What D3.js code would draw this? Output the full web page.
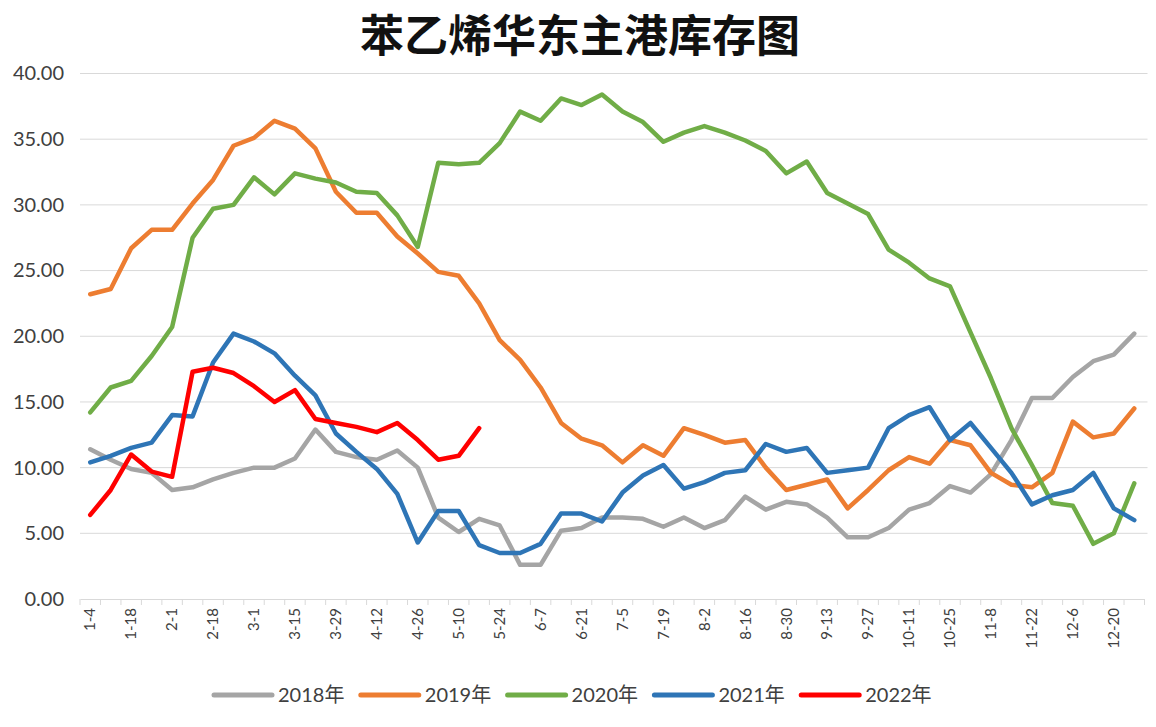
<!DOCTYPE html>
<html><head><meta charset="utf-8">
<script src="https://cdn.jsdelivr.net/npm/d3@7"></script>
<style>body{margin:0;background:#fff}svg{display:block}</style>
</head><body><svg id="c" width="1156" height="727"></svg>
<script>
const categories = ["1-4","1-11","1-18","1-25","2-1","2-8","2-18","2-22","3-1","3-8","3-15","3-22","3-29","4-5","4-12","4-19","4-26","5-3","5-10","5-17","5-24","5-31","6-7","6-14","6-21","6-28","7-5","7-12","7-19","7-26","8-2","8-9","8-16","8-23","8-30","9-6","9-13","9-20","9-27","10-4","10-11","10-18","10-25","11-1","11-8","11-15","11-22","11-29","12-6","12-13","12-20","12-27"];
const seriesNames = ["2018年","2019年","2020年","2021年","2022年"];
const seriesColors = ["#a5a5a5","#ed7d31","#70ad47","#2e75b6","#ff0000"];
const y2018 = [11.4,10.6,9.9,9.6,8.3,8.5,9.1,9.6,10.0,10.0,10.7,12.9,11.2,10.8,10.6,11.3,10.0,6.2,5.1,6.1,5.6,2.6,2.6,5.2,5.4,6.2,6.2,6.1,5.5,6.2,5.4,6.0,7.8,6.8,7.4,7.2,6.2,4.7,4.7,5.4,6.8,7.3,8.6,8.1,9.5,12.1,15.3,15.3,16.9,18.1,18.6,20.2];
const y2019 = [23.2,23.6,26.7,28.1,28.1,30.1,31.9,34.5,35.1,36.4,35.8,34.3,31.0,29.4,29.4,27.6,26.3,24.9,24.6,22.5,19.7,18.2,16.1,13.4,12.2,11.7,10.4,11.7,10.9,13.0,12.5,11.9,12.1,10.0,8.3,8.7,9.1,6.9,8.3,9.8,10.8,10.3,12.1,11.7,9.6,8.7,8.5,9.6,13.5,12.3,12.6,14.5];
const y2020 = [14.2,16.1,16.6,18.5,20.7,27.5,29.7,30.0,32.1,30.8,32.4,32.0,31.7,31.0,30.9,29.2,26.8,33.2,33.1,33.2,34.7,37.1,36.4,38.1,37.6,38.4,37.1,36.3,34.8,35.5,36.0,35.5,34.9,34.1,32.4,33.3,30.9,30.1,29.3,26.6,25.6,24.4,23.8,20.3,16.8,13.0,10.2,7.3,7.1,4.2,5.0,8.8];
const y2021 = [10.4,10.9,11.5,11.9,14.0,13.9,18.0,20.2,19.6,18.7,17.0,15.5,12.6,11.2,9.9,8.0,4.3,6.7,6.7,4.1,3.5,3.5,4.2,6.5,6.5,5.9,8.1,9.4,10.2,8.4,8.9,9.6,9.8,11.8,11.2,11.5,9.6,9.8,10.0,13.0,14.0,14.6,12.1,13.4,11.5,9.6,7.2,7.9,8.3,9.6,6.9,6.0];
const y2022 = [6.4,8.3,11.0,9.7,9.3,17.3,17.6,17.2,16.2,15.0,15.9,13.7,13.4,13.1,12.7,13.4,12.1,10.6,10.9,13.0];
const yTicks = [0,5,10,15,20,25,30,35,40];
const title = "苯乙烯华东主港库存图";

const svg = d3.select("#c");
const m = {l:80, r:1144.5, t:73.5, b:599};
const x = d3.scaleBand().domain(categories).range([m.l, m.r]).padding(0);
const y = d3.scaleLinear().domain([0,40]).range([m.b, m.t]);
const cx = d => x(d) + x.bandwidth()/2;

// gridlines
svg.append("g").selectAll("line").data(yTicks.filter(t=>t>0)).join("line")
  .attr("x1", m.l).attr("x2", m.r+3).attr("y1", d=>y(d)).attr("y2", d=>y(d))
  .attr("stroke","#d9d9d9").attr("stroke-width",1);

// y axis labels
const ya = svg.append("g").attr("transform",`translate(${m.l},0)`)
  .call(d3.axisLeft(y).tickValues(yTicks).tickFormat(d3.format(".2f")).tickSize(0).tickPadding(16));
ya.select(".domain").remove();
ya.selectAll("text").attr("font-family","Lato, 'Liberation Sans', sans-serif").attr("font-size",20).attr("fill","#404040");

// x axis
const xa = svg.append("g").attr("transform",`translate(0,${m.b})`)
  .call(d3.axisBottom(x).tickValues(categories.filter((c,i)=>i%2===0)).tickSize(0).tickPadding(8));
xa.select(".domain").attr("stroke","#d9d9d9");
xa.selectAll("text").attr("font-family","Lato, 'Liberation Sans', sans-serif").attr("font-size",15).attr("fill","#404040")
  .attr("transform","rotate(-90)").attr("text-anchor","end").attr("dx","-9").attr("dy","0.35em").attr("x",0).attr("y",0);
// boundary ticks
svg.append("g").selectAll("line").data(categories.concat(["__end"])).join("line")
  .attr("x1", (d,i)=> m.l + i*x.bandwidth()).attr("x2",(d,i)=> m.l + i*x.bandwidth())
  .attr("y1", m.b).attr("y2", m.b+6).attr("stroke","#d9d9d9");

// lines
const allData = [y2018,y2019,y2020,y2021,y2022];
const line = d3.line().x((d,i)=>cx(categories[i])).y(d=>y(d));
allData.forEach((arr,k)=>{
  svg.append("path").attr("d", line(arr)).attr("fill","none")
    .attr("stroke", seriesColors[k]).attr("stroke-width",4.5)
    .attr("stroke-linejoin","round").attr("stroke-linecap","round");
});

// title
svg.append("text").attr("x",580).attr("y",52).attr("text-anchor","middle")
  .attr("font-family","'Noto Sans CJK SC', sans-serif").attr("font-weight",700)
  .attr("font-size",44).attr("fill","#111").text(title);

// legend
const lg = svg.append("g");
seriesNames.forEach((n,k)=>{
  const x0 = 214 + k*146.8;
  lg.append("line").attr("x1",x0).attr("x2",x0+58).attr("y1",695).attr("y2",695)
    .attr("stroke",seriesColors[k]).attr("stroke-width",5).attr("stroke-linecap","round");
  lg.append("text").attr("x",x0+64).attr("y",702).attr("font-family","Lato, 'Noto Sans CJK SC', sans-serif")
    .attr("font-size",20).attr("fill","#404040").text(n);
});
</script></body></html>
